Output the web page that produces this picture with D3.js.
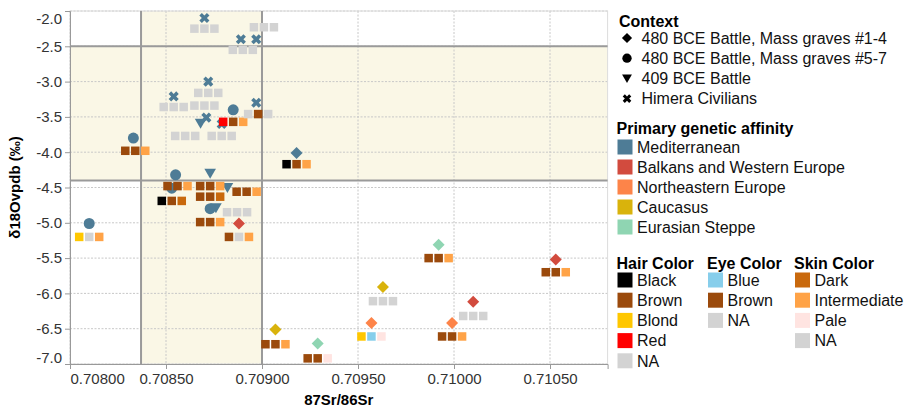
<!DOCTYPE html>
<html><head><meta charset="utf-8">
<script src="https://cdn.jsdelivr.net/npm/d3@7"></script>
<style>body{margin:0;background:#fff}svg{display:block;font-family:"Liberation Sans",Arial,sans-serif}</style>
</head><body><svg id="c" width="905" height="409"></svg>
<script>
// ---------- data ----------
const xTicks = [0.708, 0.7085, 0.709, 0.7095, 0.710, 0.7105];
const yTicks = [-2.0, -2.5, -3.0, -3.5, -4.0, -4.5, -5.0, -5.5, -6.0, -6.5, -7.0];
const localSrRange = [0.70837, 0.70900];
const localORange = [-4.4, -2.5];

const contexts = ["480 BCE Battle, Mass graves #1-4", "480 BCE Battle, Mass graves #5-7", "409 BCE Battle", "Himera Civilians"];
const affinities = ["Mediterranean", "Balkans and Western Europe", "Northeastern Europe", "Caucasus", "Eurasian Steppe"];
const affinityColors = ["#4e7c96", "#d24b3e", "#fd8449", "#d9b30c", "#8fd5b2"];
const hairCats = ["Black", "Brown", "Blond", "Red", "NA"];
const hairColors = ["#000000", "#9b4a0c", "#ffc700", "#ff0000", "#d3d3d3"];
const eyeCats = ["Blue", "Brown", "NA"];
const eyeColors = ["#87ceeb", "#9b4a0c", "#d3d3d3"];
const skinCats = ["Dark", "Intermediate", "Pale", "NA"];
const skinColors = ["#c9690d", "#ffa347", "#ffe4e1", "#d3d3d3"];

// individuals: symbol marks
const symSr = [0.70870, 0.70889, 0.70897, 0.70872, 0.70854, 0.70871, 0.70879, 0.70897,
               0.70868, 0.70873, 0.70882, 0.70876,
               0.70885, 0.70833, 0.70855, 0.70853, 0.70873, 0.70810,
               0.70918, 0.70888, 0.70907, 0.70929, 0.70957, 0.70963, 0.70992, 0.70999, 0.71010, 0.71053];
const symO = [-2.10, -2.40, -2.40, -3.00, -3.21, -3.51, -3.60, -3.30,
              -3.59, -4.30, -4.50, -4.79,
              -3.40, -3.80, -4.32, -4.51, -4.80, -5.01,
              -4.01, -5.01, -6.51, -6.71, -6.42, -5.91, -5.31, -6.42, -6.12, -5.52];
const symContext = [3,3,3,3,3,3,3,3, 2,2,2,2, 1,1,1,1,1,1, 0,0,0,0,0,0,0,0,0,0];
const symAffinity = [0,0,0,0,0,0,0,0, 0,0,0,0, 0,0,0,0,0,0, 0,1,3,4,2,3,4,2,1,1];

// individuals: trait rows (hair, eye, skin)
const trSr = [0.70870, 0.70901, 0.70890, 0.70872, 0.70854, 0.70870, 0.70860, 0.70879,
              0.70885, 0.70898, 0.70834, 0.70918, 0.70856, 0.70853, 0.70873, 0.70873,
              0.70892, 0.70887, 0.70873, 0.70888, 0.70810, 0.70907, 0.70929, 0.70957,
              0.70963, 0.70992, 0.70999, 0.71010, 0.71053];
const trO = [-2.25, -2.23, -2.55, -3.16, -3.36, -3.34, -3.77, -3.77,
             -3.57, -3.46, -3.98, -4.17, -4.48, -4.69, -4.48, -4.63,
             -4.56, -4.85, -4.99, -5.20, -5.20, -6.72, -6.92, -6.61,
             -6.11, -5.50, -6.61, -6.32, -5.70];
const trHair = ["NA","NA","NA","NA","NA","NA","NA","NA",
                "Red","NA","Brown","Black","Brown","Black","Brown","Brown",
                "Brown","NA","Brown","Brown","Blond","Brown","Brown","Blond",
                "NA","Brown","Brown","NA","Brown"];
const trEye = ["NA","NA","NA","NA","NA","NA","NA","NA",
               "Brown","Brown","Brown","Brown","Brown","Brown","Brown","Brown",
               "Brown","NA","Brown","NA","NA","Brown","Brown","Blue",
               "NA","Brown","Brown","NA","Brown"];
const trSkin = ["NA","NA","NA","NA","NA","NA","NA","NA",
                "Intermediate","NA","Intermediate","Intermediate","Intermediate","Dark","Intermediate","Dark",
                "Intermediate","NA","Intermediate","Intermediate","Intermediate","Intermediate","Pale","Pale",
                "NA","Intermediate","Intermediate","NA","Intermediate"];

// ---------- chart ----------
const svg = d3.select('#c');
const x = d3.scaleLinear().domain([0.708, 0.7108]).range([70, 607.6]);
const y = d3.scaleLinear().domain([-7, -2]).range([364, 11]);
const affColor = d3.scaleOrdinal().domain(affinities).range(affinityColors);
const hairColor = d3.scaleOrdinal().domain(hairCats).range(hairColors);
const eyeColor = d3.scaleOrdinal().domain(eyeCats).range(eyeColors);
const skinColor = d3.scaleOrdinal().domain(skinCats).range(skinColors);

const L = x.range()[0], R = x.range()[1], T = y.range()[1], B = y.range()[0];

// shaded bands
svg.append('rect').attr('x', x(localSrRange[0])).attr('y', T)
  .attr('width', x(localSrRange[1]) - x(localSrRange[0])).attr('height', B - T).attr('fill', '#faf7e6');
svg.append('rect').attr('x', L).attr('y', y(localORange[1]))
  .attr('width', R - L).attr('height', y(localORange[0]) - y(localORange[1])).attr('fill', '#faf7e6');

// grid
const grid = svg.append('g').attr('stroke', '#c8c8c8').attr('stroke-width', 1).attr('stroke-dasharray', '2,1.5');
grid.selectAll('.gh').data(yTicks).join('line')
  .attr('x1', L).attr('x2', R).attr('y1', d => y(d)).attr('y2', d => y(d));
grid.selectAll('.gv').data(xTicks).join('line')
  .attr('y1', T).attr('y2', B).attr('x1', d => x(d)).attr('x2', d => x(d));

// frame
svg.append('rect').attr('x', L).attr('y', T).attr('width', R - L).attr('height', B - T)
  .attr('fill', 'none').attr('stroke', '#dcdcdc');

// reference lines
const refs = svg.append('g').attr('stroke', '#9a9a9a').attr('stroke-width', 2);
refs.selectAll('.rv').data(localSrRange).join('line')
  .attr('x1', d => x(d)).attr('x2', d => x(d)).attr('y1', T).attr('y2', B);
refs.selectAll('.rh').data(localORange).join('line')
  .attr('y1', d => y(d)).attr('y2', d => y(d)).attr('x1', L).attr('x2', R);

// axes
const yAxis = svg.append('g').attr('transform', `translate(${L},0)`)
  .call(d3.axisLeft(y).tickValues(yTicks).tickFormat(d => d.toFixed(1)).tickSize(5).tickPadding(3));
const xAxis = svg.append('g').attr('transform', `translate(0,${B})`)
  .call(d3.axisBottom(x).tickValues(xTicks).tickFormat(d => d.toFixed(5)).tickSize(5).tickPadding(4));
[yAxis, xAxis].forEach(a => {
  a.select('.domain').attr('stroke', '#999');
  a.selectAll('.tick line').attr('stroke', '#999');
  a.selectAll('text').attr('font-size', 15).attr('fill', '#333').attr('font-family', '"Liberation Sans",Arial,sans-serif');
});
xAxis.selectAll('.tick').filter(d => d === xTicks[0]).select('text').attr('text-anchor', 'start').attr('x', 0);
yAxis.selectAll('.tick').filter(d => d === -2).select('text').attr('dy', '0.95em').attr('y', -2);
yAxis.selectAll('.tick').filter(d => d === -7).select('text').attr('dy', '-0.1em').attr('y', 0);

svg.append('text').attr('transform', `translate(20,${(T + B) / 2}) rotate(-90)`)
  .attr('text-anchor', 'middle').attr('font-size', 15).attr('font-weight', 'bold').text('δ18Ovpdb (‰)');
svg.append('text').attr('x', (L + R) / 2).attr('y', 405)
  .attr('text-anchor', 'middle').attr('font-size', 15).attr('font-weight', 'bold').text('87Sr/86Sr');

// symbol paths
function shapePath(ci, s) {
  s = s || 1;
  if (ci === 0) { const r = 6 * s; return `M0,${-r}L${r},0L0,${r}L${-r},0Z`; }
  if (ci === 1) return d3.symbol(d3.symbolCircle, 95 * s * s)();
  if (ci === 2) { const w = 5.8 * s, h = 4.6 * s; return `M${-w},${-h}L${w},${-h}L0,${h + 0.8 * s}Z`; }
  return d3.symbol(d3.symbolCross, 64 * s * s)();
}
const syms = symSr.map((v, i) => ({ sr: v, o: symO[i], c: symContext[i], a: affinities[symAffinity[i]] }));
svg.append('g').selectAll('path').data(syms).join('path')
  .attr('d', d => shapePath(d.c))
  .attr('transform', d => `translate(${x(d.sr)},${y(d.o)})` + (d.c === 3 ? ' rotate(45)' : ''))
  .attr('fill', d => affColor(d.a));

const traits = trSr.map((v, i) => ({ sr: v, o: trO[i], h: trHair[i], e: trEye[i], s: trSkin[i] }));
const sq = 8.5, gap = 10;
const tg = svg.append('g').selectAll('g').data(traits).join('g')
  .attr('transform', d => `translate(${x(d.sr)},${y(d.o)})`);
tg.append('rect').attr('x', -gap - sq / 2).attr('y', -sq / 2).attr('width', sq).attr('height', sq).attr('fill', d => hairColor(d.h));
tg.append('rect').attr('x', -sq / 2).attr('y', -sq / 2).attr('width', sq).attr('height', sq).attr('fill', d => eyeColor(d.e));
tg.append('rect').attr('x', gap - sq / 2).attr('y', -sq / 2).attr('width', sq).attr('height', sq).attr('fill', d => skinColor(d.s));

// ---------- legends ----------
const lg = svg.append('g').attr('font-size', 16).attr('fill', '#111');
function title(tx, ty, t) {
  lg.append('text').attr('x', tx).attr('y', ty).attr('font-weight', 'bold').attr('fill', '#000').text(t);
}
title(619, 26.5, 'Context');
contexts.forEach((c, i) => {
  const cy = 38 + i * 20.2;
  lg.append('path').attr('d', shapePath(i, 0.85))
    .attr('transform', `translate(627,${cy})` + (i === 3 ? ' rotate(45)' : '')).attr('fill', '#000');
  lg.append('text').attr('x', 641.5).attr('y', cy + 5.8).text(c);
});
title(616.5, 134, 'Primary genetic affinity');
affinities.forEach((a, i) => {
  const cy = 147 + i * 20;
  lg.append('rect').attr('x', 617.5).attr('y', cy - 7.5).attr('width', 15).attr('height', 15).attr('fill', affColor(a));
  lg.append('text').attr('x', 637).attr('y', cy + 5.8).text(a);
});
function catLegend(tx, name, cats, scale) {
  title(tx - 0.5, 269, name);
  cats.forEach((c, i) => {
    const cy = 280 + i * 20.2;
    lg.append('rect').attr('x', tx + 0.5).attr('y', cy - 7.5).attr('width', 15).attr('height', 15).attr('fill', scale(c));
    lg.append('text').attr('x', tx + 20).attr('y', cy + 5.8).text(c);
  });
}
catLegend(617, 'Hair Color', hairCats, hairColor);
catLegend(707.5, 'Eye Color', eyeCats, eyeColor);
catLegend(794.5, 'Skin Color', skinCats, skinColor);
</script></body></html>
